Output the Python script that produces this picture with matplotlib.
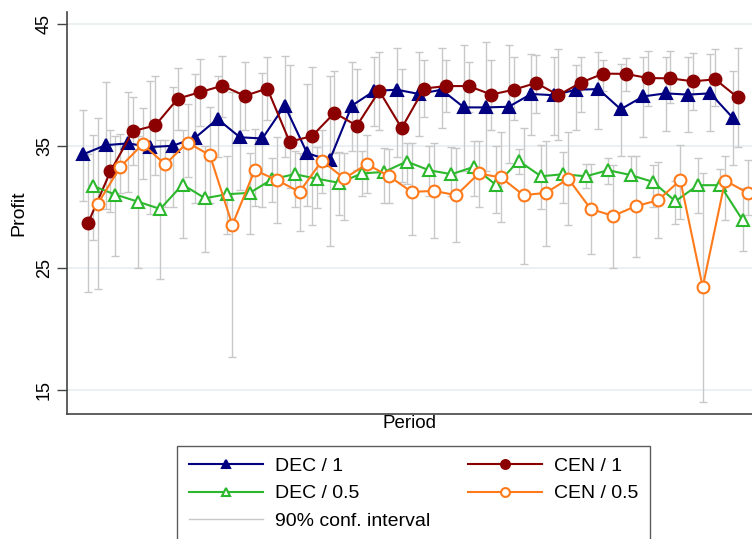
import matplotlib
matplotlib.use('Agg')
import matplotlib.pyplot as plt
from matplotlib.lines import Line2D
import numpy as np

plt.rcParams['font.family'] = ['Liberation Sans', 'DejaVu Sans']

# mean profit per period, four treatments
periods = np.arange(1, 31)
dec1 = [34.3, 35.05, 35.2, 34.9, 35.0, 35.66, 37.2, 35.7, 35.6, 38.3,
        34.4, 33.8, 38.3, 39.5, 39.6, 39.25, 39.6, 38.15, 38.15, 38.2,
        39.25, 39.15, 39.6, 39.65, 38.0, 39.05, 39.3, 39.2, 39.3, 37.3]
cen1 = [28.67, 32.9, 36.2, 36.67, 38.86, 39.4, 39.93, 39.1, 39.7, 35.33,
        35.8, 37.7, 36.65, 39.5, 36.45, 39.7, 39.9, 39.9, 39.2, 39.6,
        40.15, 39.16, 40.18, 40.92, 40.9, 40.56, 40.53, 40.29, 40.45, 38.97]
dec05 = [31.7, 31.0, 30.42, 29.82, 31.82, 30.7, 31.03, 31.14, 32.26, 32.67,
         32.3, 31.96, 32.73, 32.86, 33.71, 33.0, 32.67, 33.27, 31.77, 33.77,
         32.5, 32.67, 32.5, 33.0, 32.6, 32.04, 30.45, 31.77, 31.77, 28.9]
cen05 = [30.26, 33.27, 35.14, 33.47, 35.27, 34.23, 28.51, 33.0, 32.18, 31.22,
         33.77, 32.32, 33.49, 32.51, 31.22, 31.3, 30.95, 32.73, 32.4, 30.95,
         31.14, 32.29, 29.82, 29.25, 30.04, 30.53, 32.18, 23.41, 32.15, 31.14]

# 90% confidence intervals (lower, upper)
dec1_lo = [30.5, 29.8, 31.2, 29.4, 30.0, 30.3, 34.1, 31.4, 30.0, 34.1,
           30.1, 26.8, 34.6, 36.6, 34.1, 35.8, 36.5, 32.9, 32.9, 33.6,
           35.9, 35.9, 36.3, 36.4, 34.15, 35.7, 36.2, 36.1, 36.2, 33.4]
dec1_hi = [37.9, 40.2, 39.4, 40.3, 39.8, 40.9, 40.7, 39.3, 41.0, 42.4,
           40.1, 40.7, 41.9, 42.3, 43.0, 42.7, 43.0, 43.3, 43.5, 43.3,
           42.5, 42.3, 41.6, 42.7, 41.7, 42.3, 42.3, 42.3, 42.5, 41.1]
cen1_lo = [23.0, 29.6, 33.4, 32.6, 36.3, 36.6, 37.4, 36.3, 37.1, 31.5,
           28.5, 34.4, 33.0, 36.3, 32.0, 37.4, 37.8, 37.8, 36.3, 37.1,
           37.7, 35.5, 37.8, 39.5, 39.5, 38.3, 38.5, 37.9, 38.3, 34.9]
cen1_hi = [34.3, 36.3, 39.0, 40.7, 41.4, 42.1, 42.4, 41.9, 42.3, 41.6,
           41.5, 41.1, 41.3, 42.7, 41.3, 42.0, 42.0, 41.9, 42.0, 42.3,
           42.45, 42.9, 42.3, 42.0, 42.2, 42.8, 42.8, 42.6, 42.9, 43.0]
dec05_lo = [27.3, 26.0, 25.0, 24.1, 27.4, 26.3, 27.8, 27.8, 30.4, 30.0,
            29.9, 29.3, 30.9, 30.3, 31.9, 30.9, 30.9, 30.9, 29.5, 32.7,
            29.8, 30.3, 31.5, 31.9, 32.3, 30.0, 28.6, 29.5, 31.5, 26.4]
dec05_hi = [35.9, 35.8, 35.8, 35.5, 36.3, 35.0, 34.2, 34.4, 34.0, 34.6,
            34.9, 34.5, 34.6, 34.8, 35.2, 35.0, 34.9, 35.4, 35.0, 34.7,
            35.05, 34.5, 33.5, 34.0, 34.15, 33.4, 32.1, 34.0, 33.1, 31.5]
cen05_lo = [23.25, 31.1, 32.3, 30.0, 32.45, 30.3, 17.7, 30.1, 28.7, 28.0,
            31.1, 28.9, 31.1, 30.3, 27.7, 27.4, 27.1, 30.0, 28.75, 25.3,
            26.8, 28.5, 26.1, 25.0, 25.9, 27.4, 29.0, 14.0, 28.9, 29.3]
cen05_hi = [37.25, 36.0, 38.1, 35.5, 38.4, 38.2, 39.4, 36.4, 35.7, 34.4,
            36.3, 34.45, 35.9, 34.7, 35.2, 35.2, 34.8, 35.4, 36.1, 36.5,
            35.4, 36.1, 33.5, 33.4, 34.15, 33.7, 35.1, 32.8, 34.2, 33.8]

labels = ['DEC / 1', 'CEN / 1', 'DEC / 0.5', 'CEN / 0.5']

fig = plt.figure(figsize=(7.52, 5.39), dpi=100)
ax = fig.add_axes([0.0891, 0.2319, 0.9109, 0.7464])

ci_color = '#c8c8c8'
series = [
    (dec1, dec1_lo, dec1_hi, -0.33, '#000080', '^', '#000080'),
    (cen1, cen1_lo, cen1_hi, -0.11, '#8b0000', 'o', '#8b0000'),
    (dec05, dec05_lo, dec05_hi, 0.11, '#2cb82c', '^', 'white'),
    (cen05, cen05_lo, cen05_hi, 0.33, '#ff7a1a', 'o', 'white'),
]

# confidence intervals first, then the lines on top
for vals, lo, hi, off, col, mk, fc in series:
    v = np.array(vals)
    ax.errorbar(periods + off, v, yerr=[v - np.array(lo), np.array(hi) - v],
                fmt='none', ecolor=ci_color, elinewidth=1, capsize=3,
                capthick=1, zorder=1)

handles = []
for (vals, lo, hi, off, col, mk, fc), lab in zip(series, labels):
    h, = ax.plot(periods + off, vals, color=col, lw=1.5, marker=mk,
                 markersize=8.5, markerfacecolor=fc, markeredgecolor=col,
                 markeredgewidth=1.5, label=lab, zorder=3)
    handles.append(h)

ax.set_xlim(-0.05, 30.53)
ax.set_ylim(13, 46)
ax.set_yticks([15, 25, 35, 45])
ax.set_yticklabels(['15', '25', '35', '45'], rotation=90, va='center', fontsize=13)
ax.set_xticks([])
ax.grid(axis='y', color='#e8eff1', lw=1.2, zorder=0)
ax.set_axisbelow(True)
ax.tick_params(axis='y', length=7, width=1, color='#444444', pad=3)
for s in ['top', 'right']:
    ax.spines[s].set_visible(False)
for s in ['left', 'bottom']:
    ax.spines[s].set_color('#444444')
    ax.spines[s].set_linewidth(1.2)
ax.set_ylabel('Profit', fontsize=14, labelpad=6)
ax.set_xlabel('Period', fontsize=13.5, labelpad=1)

ci_handle = Line2D([], [], color=ci_color, lw=1)
leg_handles = [handles[0], handles[2], ci_handle, handles[1], handles[3]]
leg_labels = ['DEC / 1', 'DEC / 0.5', '90% conf. interval', 'CEN / 1', 'CEN / 0.5']
leg = fig.legend(leg_handles, leg_labels, ncol=2, loc='upper left',
                 bbox_to_anchor=(0.2354, 0.1731), borderaxespad=0,
                 fontsize=14, frameon=True, fancybox=False,
                 edgecolor='#333333', handlelength=3.8, handletextpad=0.62,
                 columnspacing=1.95, borderpad=0.6, labelspacing=0.5,
                 markerscale=0.75)
leg.get_frame().set_linewidth(1)

fig.savefig('out.png', dpi=100)
